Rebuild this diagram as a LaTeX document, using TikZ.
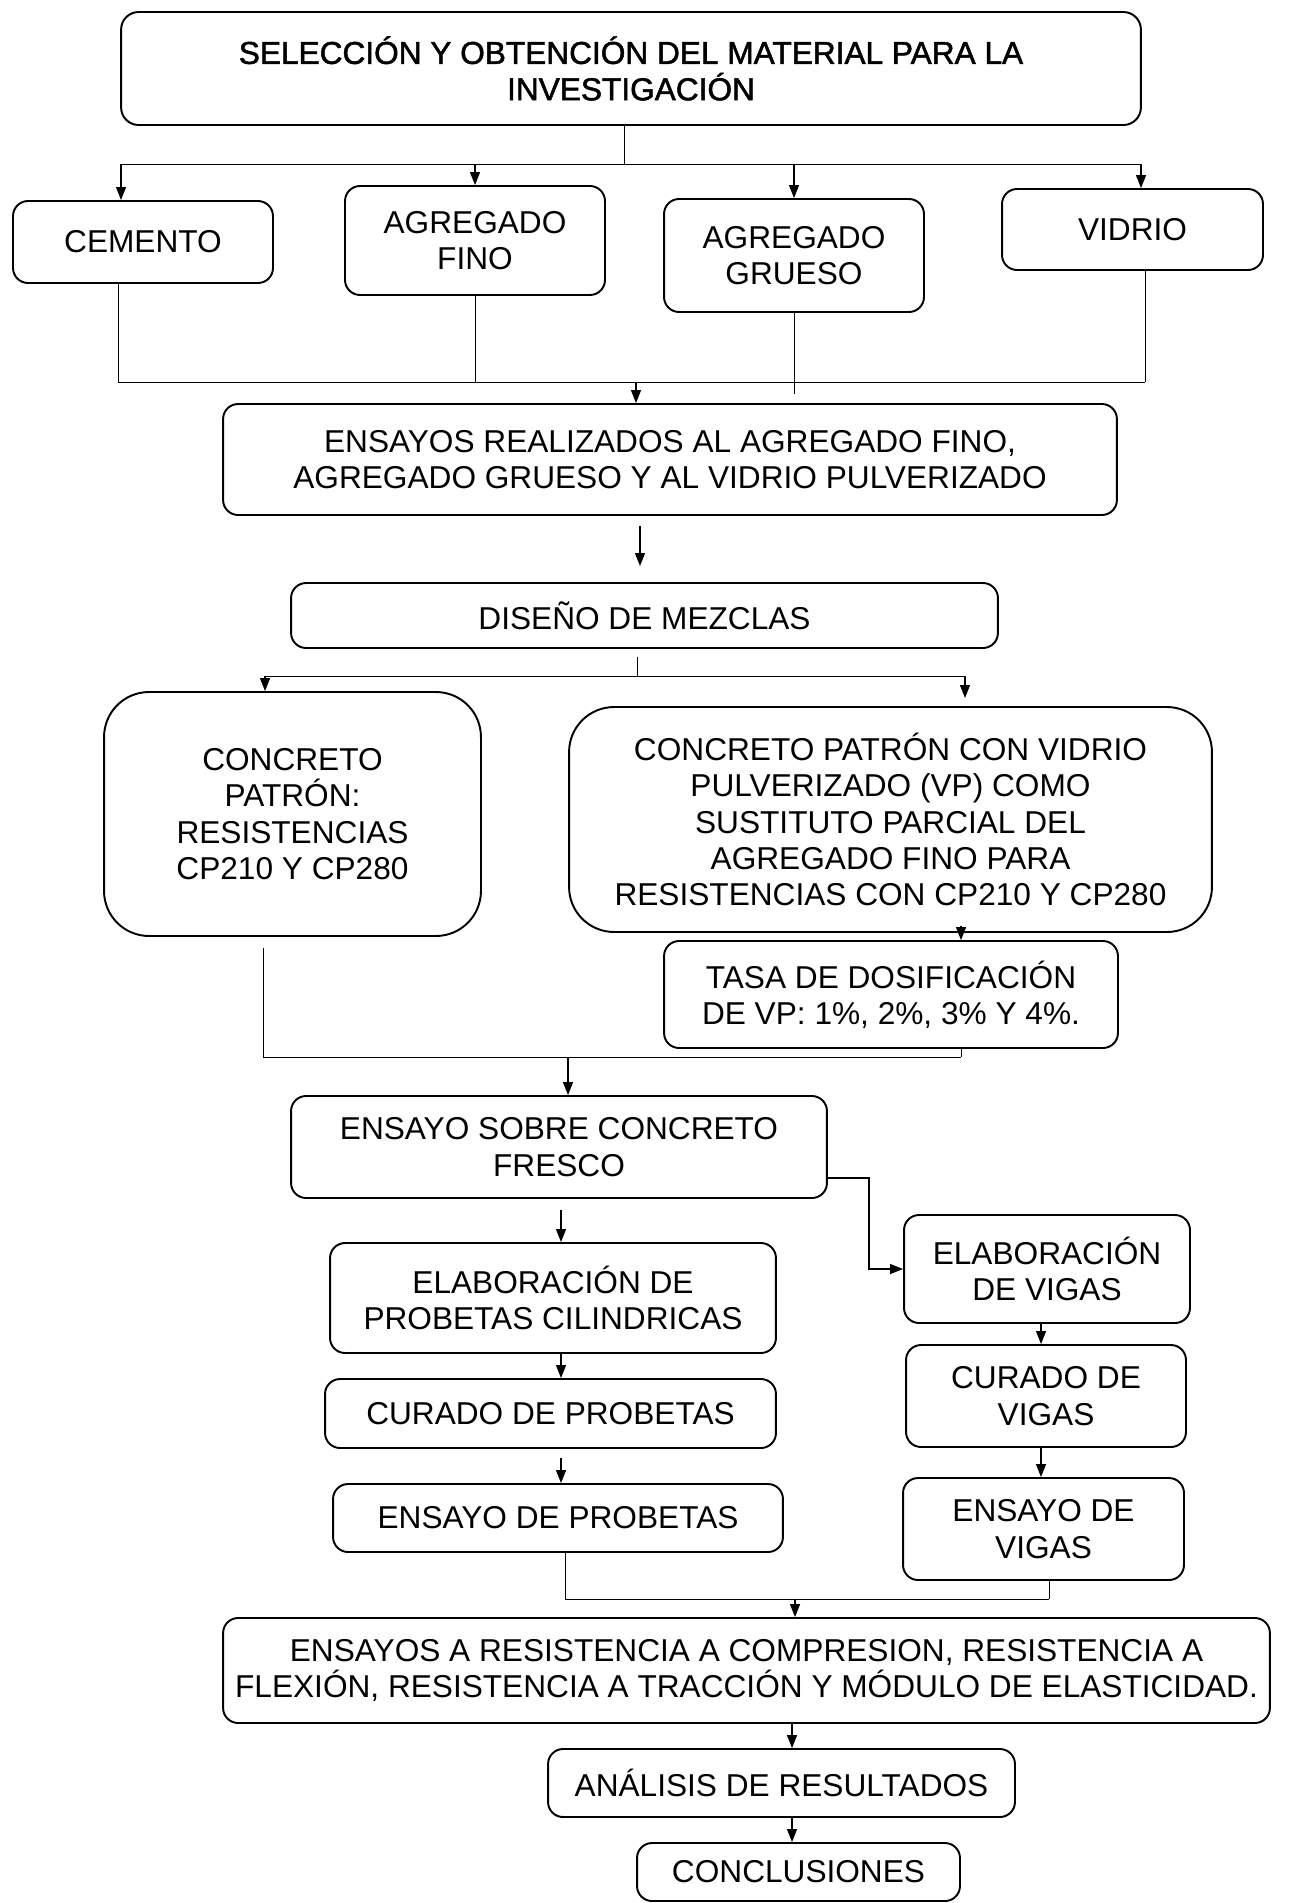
\documentclass[tikz,border=0pt]{standalone}
\usepackage{fontspec}
\setmainfont{Liberation Sans}
\newfontfamily\titlefont{Liberation Sans}[BoldFont=Liberation Sans, BoldFeatures={FakeBold=1.6}]
\usetikzlibrary{arrows.meta, positioning}
\tikzset{
  box/.style={draw, line width=1.1pt, rounded corners=0.3cm, align=center, inner sep=0pt,
    font=\fontsize{18}{20.7}\selectfont},
  bigbox/.style={box, rounded corners=0.9cm},
  arr/.style={-{Triangle[length=2.6mm, width=2mm]}, line width=0.7pt},
  link/.style={line width=0.5pt},
}

\begin{document}
\begin{tikzpicture}[x=0.02cm, y=-0.02cm]
\useasboundingbox (0,0) rectangle (1310,1903);
% Title box
\node[box, rounded corners=0.35cm, minimum width=20.4cm, minimum height=2.26cm,
  font=\fontsize{18}{20.7}\titlefont\bfseries] (titulo) at (631,68.5) {SELECCIÓN Y OBTENCIÓN DEL MATERIAL PARA LA\\INVESTIGACIÓN};
% Materials
\node[box, minimum width=5.2cm, minimum height=1.64cm] (cemento) at (143,242) {CEMENTO};
\node[box, minimum width=5.2cm, minimum height=2.18cm] (fino) at (475,240.5) {AGREGADO\\FINO};
\node[box, minimum width=5.2cm, minimum height=2.26cm] (grueso) at (794,255.5) {AGREGADO\\GRUESO};
\node[box, minimum width=5.22cm, minimum height=1.62cm] (vidrio) at (1132.5,229.5) {VIDRIO};
% Tests on aggregates and mix design
\node[box, minimum width=17.88cm, minimum height=2.22cm] (ensayos) at (670,459.5) {ENSAYOS REALIZADOS AL AGREGADO FINO,\\AGREGADO GRUESO Y AL VIDRIO PULVERIZADO};
\node[box, minimum width=14.14cm, minimum height=1.3cm] (diseno) at (644.5,615.5) {DISEÑO DE MEZCLAS};
% Concrete types
\node[bigbox, minimum width=7.54cm, minimum height=4.88cm] (patron) at (292.5,814) {CONCRETO\\PATRÓN:\\RESISTENCIAS\\CP210 Y CP280};
\node[bigbox, minimum width=12.86cm, minimum height=4.5cm] (vidriocp) at (890.5,819.5) {CONCRETO PATRÓN CON VIDRIO\\PULVERIZADO (VP) COMO\\SUSTITUTO PARCIAL DEL\\AGREGADO FINO PARA\\RESISTENCIAS CON CP210 Y CP280};
\node[box, minimum width=9.08cm, minimum height=2.14cm] (tasa) at (891,994.5) {TASA DE DOSIFICACIÓN\\DE VP: 1\%, 2\%, 3\% Y 4\%.};
% Fresh concrete
\node[box, minimum width=10.72cm, minimum height=2.04cm] (fresco) at (559,1147) {ENSAYO SOBRE CONCRETO\\FRESCO};
% Cylinder branch
\node[box, minimum width=8.92cm, minimum height=2.2cm] (elabprob) at (553,1298) {ELABORACIÓN DE\\PROBETAS CILINDRICAS};
\node[box, minimum width=9.02cm, minimum height=1.38cm] (curprob) at (550.5,1413.5) {CURADO DE PROBETAS};
\node[box, minimum width=9cm, minimum height=1.36cm] (ensprob) at (558,1518) {ENSAYO DE PROBETAS};
% Beam branch
\node[box, minimum width=5.72cm, minimum height=2.16cm] (elabvig) at (1047,1269) {ELABORACIÓN\\DE VIGAS};
\node[box, minimum width=5.6cm, minimum height=2.04cm] (curvig) at (1046,1396) {CURADO DE\\VIGAS};
\node[box, minimum width=5.62cm, minimum height=2.04cm] (ensvig) at (1043.5,1529) {ENSAYO DE\\VIGAS};
% Results
\node[box, minimum width=20.94cm, minimum height=2.1cm] (resist) at (746.5,1670.5) {ENSAYOS A RESISTENCIA A COMPRESION, RESISTENCIA A\\FLEXIÓN, RESISTENCIA A TRACCIÓN Y MÓDULO DE ELASTICIDAD.};
\node[box, minimum width=9.34cm, minimum height=1.36cm] (analisis) at (781.5,1783) {ANÁLISIS DE RESULTADOS};
\node[box, minimum width=6.46cm, minimum height=1.16cm] (concl) at (798.5,1872) {CONCLUSIONES};

% Split to materials
\coordinate (busA) at (624,164);
\coordinate (busAl) at (121,164);
\coordinate (busAr) at (1141,164);
\draw[link] (titulo.south -| busA) -- (busA);
\draw[link] (busAl) -- (busAr);
\draw[arr] (busAl) -- (busAl |- cemento.north);
\draw[arr] (fino.north |- busA) -- (fino.north);
\draw[arr] (grueso.north |- busA) -- (grueso.north);
\draw[arr] (busAr) -- (busAr |- vidrio.north);
% Join materials
\coordinate (busBl) at (118,382);
\coordinate (busBr) at (1145,382);
\coordinate (busBm) at (636,382);
\draw[link] (cemento.south -| busBl) -- (busBl);
\draw[link] (fino.south) -- (fino.south |- busBl);
\draw[link] (grueso.south) -- ([yshift=-0.24cm]grueso.south |- busBl);
\draw[link] (vidrio.south -| busBr) -- (busBr);
\draw[link] (busBl) -- (busBr);
\draw[arr] (busBm) -- (busBm |- ensayos.north);
% Tests to mix design
\coordinate (e1) at (640,526);
\coordinate (e2) at (640,566);
\draw[arr] (e1) -- (e2);
% Split to concrete types
\coordinate (d0) at (637,657);
\coordinate (dl) at (265,676);
\coordinate (dr) at (965,676);
\coordinate (dre) at (965,698);
\draw[link] (d0) -- (d0 |- dl);
\draw[link] (dl) -- (dr);
\draw[arr] (dl) -- (dl |- patron.north);
\draw[arr] (dr) -- (dre);
\coordinate (vt) at (961,0);
\draw[arr] ([yshift=0.14cm]vidriocp.south -| vt) -- (tasa.north -| vt);
% Join to fresh concrete
\coordinate (cl) at (263,1057);
\coordinate (cr) at (961,1057);
\coordinate (cm) at (568,1057);
\draw[link] ([yshift=-0.22cm]patron.south -| cl) -- (cl);
\draw[link] (tasa.south -| cr) -- (cr);
\draw[link] (cl) -- (cr);
\draw[arr] (cm) -- (cm |- fresco.north);
% Cylinder branch
\coordinate (f1) at (561,1210);
\draw[arr] (f1) -- (f1 |- elabprob.north);
\draw[arr] (elabprob.south -| f1) -- (curprob.north -| f1);
\draw[arr] ([yshift=-0.18cm]curprob.south -| f1) -- (ensprob.north -| f1);
% Beam branch
\draw[arr] ([yshift=-0.62cm]fresco.east) -- ++(41,0) |- (elabvig.west);
\coordinate (v1) at (1041,0);
\draw[arr] (elabvig.south -| v1) -- (curvig.north -| v1);
\draw[arr] (curvig.south -| v1) -- (ensvig.north -| v1);
% Join to strength tests
\coordinate (gl) at (565,1599);
\coordinate (gr) at (1049,1599);
\coordinate (gm) at (795,1599);
\draw[link] (ensprob.south -| gl) -- (gl);
\draw[link] (ensvig.south -| gr) -- (gr);
\draw[link] (gl) -- (gr);
\draw[arr] (gm) -- (gm |- resist.north);
% Results and conclusions
\coordinate (r1) at (792,0);
\draw[arr] (resist.south -| r1) -- (analisis.north -| r1);
\draw[arr] (analisis.south -| r1) -- (concl.north -| r1);
\end{tikzpicture}
\end{document}
